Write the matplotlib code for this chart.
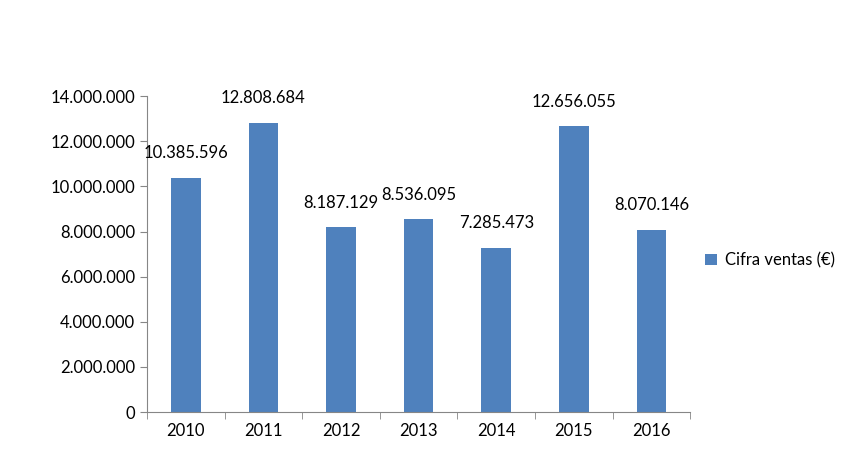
import numpy as np
import matplotlib.pyplot as plt
from matplotlib.ticker import FuncFormatter

years = ['2010', '2011', '2012', '2013', '2014', '2015', '2016']
ventas = [10385596, 12808684, 8187129, 8536095, 7285473, 12656055, 8070146]
etiquetas = ['10.385.596', '12.808.684', '8.187.129', '8.536.095', '7.285.473', '12.656.055', '8.070.146']

plt.rcParams['font.family'] = 'Lato'
plt.rcParams['font.size'] = 12

fig = plt.figure(figsize=(8.5, 4.62), dpi=100)
ax = fig.add_axes([0.173, 0.108, 0.639, 0.684])

x = np.arange(len(years))
bars = ax.bar(x, ventas, width=0.38, color='#4F81BD', label='Cifra ventas (€)')

for xi, v, t in zip(x, ventas, etiquetas):
    ax.annotate(t, (xi, v), xytext=(0, 12), textcoords='offset points',
                ha='center', va='bottom', fontsize=12)

ax.set_xlim(-0.5, len(years) - 0.5)
ax.set_ylim(0, 14000000)
ax.set_yticks(np.arange(0, 14000001, 2000000))
ax.yaxis.set_major_formatter(FuncFormatter(lambda v, p: f'{int(v):,}'.replace(',', '.')))
ax.set_xticks(x)
ax.set_xticklabels(years)
ax.set_xticks(np.arange(-0.5, len(years), 1), minor=True)
ax.tick_params(axis='x', which='major', length=0, pad=8)
ax.tick_params(axis='x', which='minor', length=5, color='#868686')
ax.tick_params(axis='y', length=5, color='#868686')

for s in ['top', 'right']:
    ax.spines[s].set_visible(False)
for s in ['left', 'bottom']:
    ax.spines[s].set_color('#868686')

ax.legend(loc='center left', bbox_to_anchor=(1.0, 0.48), frameon=False,
          handlelength=0.7, handleheight=0.7, handletextpad=0.5, fontsize=12)

fig.savefig('out.png', dpi=100)
